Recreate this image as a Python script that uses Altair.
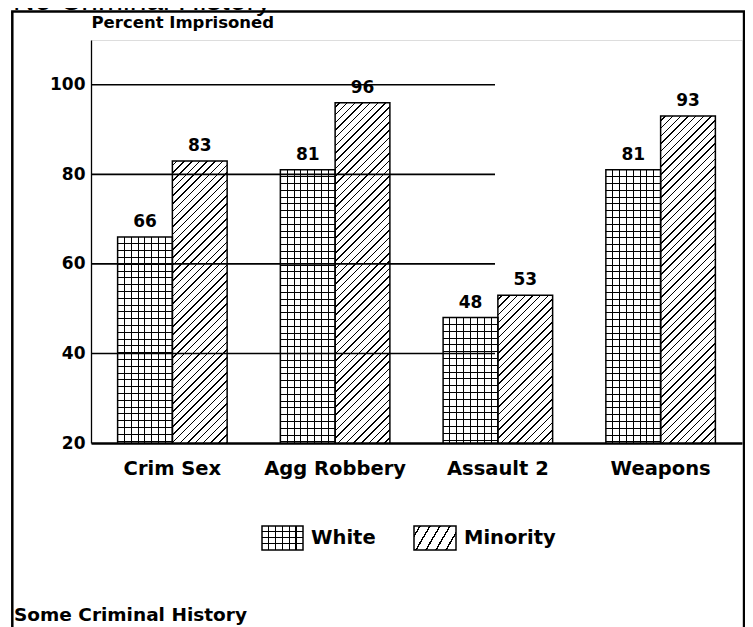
import altair as alt
import pandas as pd

# ---------------- data ----------------
categories = ["Crim Sex", "Agg Robbery", "Assault 2", "Weapons"]
groups = ["White", "Minority"]
white_values = [66, 81, 48, 81]
minority_values = [83, 96, 53, 93]
y_tick_values = [20, 40, 60, 80, 100]
gridline_values = [40, 60, 80, 100]
title_top = "No Criminal History"
title_bottom = "Some Criminal History"
y_title = "Percent Imprisoned"

# ---------------- layout / style ----------------
PLOT_W, PLOT_H = 651, 403
Y_MIN, Y_MAX = 20, 110
PAD_OUTER = 0.486
FONT = "DejaVu Sans"
INK = "black"
CLEAR = "rgba(0,0,0,0)"

rows = []
for c, w, m in zip(categories, white_values, minority_values):
    rows.append({"category": c, "group": "White", "value": w})
    rows.append({"category": c, "group": "Minority", "value": m})
df = pd.DataFrame(rows)
grid_df = pd.DataFrame({"value": gridline_values})

bar_w = PLOT_W / len(categories) / (len(groups) + 2 * PAD_OUTER)


def bar_h(v):
    return (v - Y_MIN) / (Y_MAX - Y_MIN) * PLOT_H


def hatch_stops(offsets, half):
    stops = [alt.GradientStop(color=CLEAR, offset=0)]
    for o in offsets:
        a = min(max(o - half, 0), 1)
        b = min(max(o + half, 0), 1)
        stops += [
            alt.GradientStop(color=CLEAR, offset=a),
            alt.GradientStop(color=INK, offset=a),
            alt.GradientStop(color=INK, offset=b),
            alt.GradientStop(color=CLEAR, offset=b),
        ]
    stops.append(alt.GradientStop(color=CLEAR, offset=1))
    return stops


def lines_grad(length, spacing, thick, direction):
    offs = []
    k = 1
    while k * spacing < length - 1:
        offs.append(k * spacing / length)
        k += 1
    half = thick / 2 / length
    if direction == "x":
        x1, y1, x2, y2 = 0, 0, 1, 0
    else:
        x1, y1, x2, y2 = 0, 0, 0, 1
    return alt.LinearGradient(gradient="linear", stops=hatch_stops(offs, half),
                              x1=x1, y1=y1, x2=x2, y2=y2)


def diag_grad(W, H, r, d, thick):
    total = r * W + H
    k = total / (r * r * W * W + H * H)
    step = r * d / total
    half = r * thick / 2 / total
    offs = []
    o = step * 0.6
    while o < 1:
        offs.append(o)
        o += step
    return alt.LinearGradient(gradient="linear", stops=hatch_stops(offs, half),
                              x1=0, y1=0, x2=r * W * k, y2=H * k)


x_axis = alt.Axis(title=None, labelAngle=0, labelFont=FONT, labelFontWeight="bold",
                  labelFontSize=19.5, labelColor=INK, labelPadding=16, ticks=False,
                  tickSize=0, domainColor=INK, domainWidth=2.5, grid=False)
y_axis = alt.Axis(title=y_title, titleAngle=0, titleX=0, titleY=-12.5, titleAlign="left",
                  titleBaseline="alphabetic", titleFont=FONT, titleFontWeight="bold",
                  titleFontSize=16.5, titleColor=INK, values=y_tick_values, labelFont=FONT,
                  labelFontWeight="bold", labelFontSize=17, labelColor=INK, labelPadding=6,
                  ticks=False, tickSize=0, domain=True, domainColor=INK, domainWidth=1.3,
                  grid=False)

X = alt.X("category:N", sort=categories,
          scale=alt.Scale(domain=categories, paddingInner=0, paddingOuter=0), axis=x_axis)
XO = alt.XOffset("group:N", sort=groups,
                 scale=alt.Scale(domain=groups, paddingInner=0, paddingOuter=PAD_OUTER))
Y = alt.Y("value:Q", scale=alt.Scale(domain=[Y_MIN, Y_MAX], nice=False, zero=False), axis=y_axis)
Y2 = alt.Y2Datum(Y_MIN)

layers = []
# white base of all bars
layers.append(alt.Chart(df).mark_bar(fill="white").encode(x=X, xOffset=XO, y=Y, y2=Y2))
# vertical lines of the grid pattern (White bars)
layers.append(
    alt.Chart(df).transform_filter(alt.datum.group == "White")
    .mark_bar(fill=lines_grad(bar_w, bar_w / 8, 1.0, "x"))
    .encode(x=X, xOffset=XO, y=Y, y2=Y2)
)
# horizontal lines of the grid pattern, per bar
for c, v in zip(categories, white_values):
    layers.append(
        alt.Chart(df)
        .transform_filter((alt.datum.group == "White") & (alt.datum.category == c))
        .mark_bar(fill=lines_grad(bar_h(v), 6.8, 1.0, "y"))
        .encode(x=X, xOffset=XO, y=Y, y2=Y2)
    )
# diagonal hatch, per Minority bar
for c, v in zip(categories, minority_values):
    layers.append(
        alt.Chart(df)
        .transform_filter((alt.datum.group == "Minority") & (alt.datum.category == c))
        .mark_bar(fill=diag_grad(bar_w, bar_h(v), 1.0, 7.7, 1.5))
        .encode(x=X, xOffset=XO, y=Y, y2=Y2)
    )
# bar outlines
layers.append(
    alt.Chart(df).mark_bar(fillOpacity=0, stroke=INK, strokeWidth=1.5)
    .encode(x=X, xOffset=XO, y=Y, y2=Y2)
)
# partial gridlines
layers.append(
    alt.Chart(grid_df).mark_rule(color=INK, strokeWidth=1.6)
    .encode(y=Y, x=alt.value(0), x2=alt.value(404))
)
# value labels
layers.append(
    alt.Chart(df).mark_text(font=FONT, fontWeight="bold", fontSize=17, color=INK,
                            baseline="alphabetic", dy=-10)
    .encode(x=X, xOffset=XO, y=Y, text=alt.Text("value:Q", format="d"))
)

# ---------------- annotations ----------------
one = pd.DataFrame({"label": [title_top]})
layers.append(
    alt.Chart(one).mark_text(font="Liberation Sans", fontSize=30, color=INK, align="left",
                             baseline="alphabetic")
    .encode(x=alt.value(-78), y=alt.value(-30.5), text="label:N")
)
bottom = pd.DataFrame({"label": [title_bottom]})
layers.append(
    alt.Chart(bottom).mark_text(font=FONT, fontWeight="bold", fontSize=18.5, color=INK,
                                align="left", baseline="alphabetic")
    .encode(x=alt.value(-77), y=alt.value(581), text="label:N")
)
frame = pd.DataFrame({"label": ["frame"]})
BOX_L, BOX_R, BOX_T = -78.7, 652.9, -28.5
layers.append(alt.Chart(frame).mark_rule(color=INK, strokeWidth=2.5)
              .encode(x=alt.value(BOX_L), y=alt.value(BOX_T), y2=alt.value(620)))
layers.append(alt.Chart(frame).mark_rule(color=INK, strokeWidth=2.2)
              .encode(x=alt.value(BOX_R), y=alt.value(BOX_T), y2=alt.value(620)))
layers.append(alt.Chart(frame).mark_rule(color=INK, strokeWidth=2.5)
              .encode(x=alt.value(BOX_L - 1.2), x2=alt.value(BOX_R + 1.1), y=alt.value(BOX_T)))

# legend
leg_df = pd.DataFrame({"group": groups})
SW_Y0, SW_Y1 = 486, 510
sw_white = (171, 212)
sw_min = (323, 365)
wdf = leg_df[leg_df.group == "White"]
mdf = leg_df[leg_df.group == "Minority"]
for sdf, (x0, x1) in ((wdf, sw_white), (mdf, sw_min)):
    layers.append(alt.Chart(sdf).mark_rect(fill="white")
                  .encode(x=alt.value(x0), x2=alt.value(x1), y=alt.value(SW_Y0), y2=alt.value(SW_Y1)))
layers.append(alt.Chart(wdf).mark_rect(fill=lines_grad(sw_white[1] - sw_white[0], 6.8, 1.0, "x"))
              .encode(x=alt.value(sw_white[0]), x2=alt.value(sw_white[1]),
                      y=alt.value(SW_Y0), y2=alt.value(SW_Y1)))
layers.append(alt.Chart(wdf).mark_rect(fill=lines_grad(SW_Y1 - SW_Y0, 6.0, 1.0, "y"))
              .encode(x=alt.value(sw_white[0]), x2=alt.value(sw_white[1]),
                      y=alt.value(SW_Y0), y2=alt.value(SW_Y1)))
layers.append(alt.Chart(mdf).mark_rect(fill=diag_grad(sw_min[1] - sw_min[0], SW_Y1 - SW_Y0, 1.7, 10, 1.6))
              .encode(x=alt.value(sw_min[0]), x2=alt.value(sw_min[1]),
                      y=alt.value(SW_Y0), y2=alt.value(SW_Y1)))
for sdf, (x0, x1) in ((wdf, sw_white), (mdf, sw_min)):
    layers.append(alt.Chart(sdf).mark_rect(fillOpacity=0, stroke=INK, strokeWidth=1.5)
                  .encode(x=alt.value(x0), x2=alt.value(x1), y=alt.value(SW_Y0), y2=alt.value(SW_Y1)))
    layers.append(alt.Chart(sdf).mark_text(font=FONT, fontWeight="bold", fontSize=19.5, color=INK,
                                           align="left", baseline="middle")
                  .encode(x=alt.value(x1 + 8), y=alt.value((SW_Y0 + SW_Y1) / 2), text="group:N"))

chart = (
    alt.layer(*layers)
    .properties(width=PLOT_W, height=PLOT_H,
                autosize=alt.AutoSizeParams(type="none"),
                padding={"left": 83, "top": 32, "right": 3, "bottom": 184})
    .configure_view(stroke="#333333", strokeWidth=1.2)
    .configure(background="white")
)

chart.save("out.html", embed_options={"renderer": "svg", "actions": False})
